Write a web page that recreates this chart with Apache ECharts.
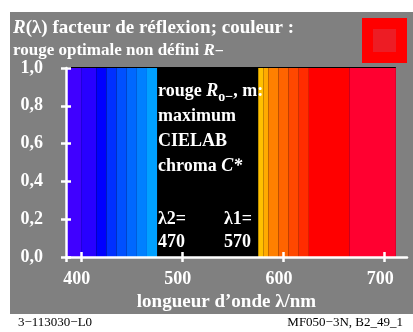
<!DOCTYPE html>
<html>
<head>
<meta charset="utf-8">
<script src="https://cdn.jsdelivr.net/npm/echarts@6/dist/echarts.min.js"></script>
<style>
  html, body { margin: 0; padding: 0; background: #ffffff; }
  #chart { width: 413px; height: 332px; }
</style>
</head>
<body>
<div id="chart"></div>
<script>
// Spectral bands (nm) where the optimal red reflects, with their display colours
const bandFrom = [385, 400, 415, 425, 435, 445, 455, 465, 575, 580, 585, 595, 605, 615, 625, 665];
const bandTo   = [400, 415, 425, 435, 445, 455, 465, 475, 580, 585, 595, 605, 615, 625, 665, 711];
const bandReflectance = [1, 1, 1, 1, 1, 1, 1, 1, 1, 1, 1, 1, 1, 1, 1, 1];
const bandColors = ['#4000ff', '#2800ff', '#0000ff', '#0030ff', '#0050ff', '#0068ff', '#0080ff', '#00a0ff',
                    '#ffc000', '#ffaa00', '#ff8000', '#ff6400', '#ff4800', '#ff2c00', '#ff0000', '#ff0030'];
// Full spectral range of the plot background (zero reflectance shows black)
const spectrumRange = [385, 711];
const xTickValues = [400, 500, 600, 700];
const lambda2 = 470;
const lambda1 = 570;

const serif = '"Liberation Serif", "Times New Roman", serif';
const chart = echarts.init(document.getElementById('chart'), null, { renderer: 'canvas' });

const bands = bandFrom.map((f, i) => [f, bandTo[i], bandReflectance[i], i]);

function rectItem(api, x0, x1, r, extraTop) {
  const p0 = api.coord([x0, 0]);
  const p1 = api.coord([x1, r]);
  return { x: p0[0], y: p1[1] - extraTop, width: p1[0] - p0[0], height: p0[1] - p1[1] + extraTop };
}

const white = '#ffffff';
const tickStyle = { color: white, width: 2.5 };
const labelFont = { color: white, fontFamily: serif, fontWeight: 'bold', fontSize: 18 };

const option = {
  animation: false,
  backgroundColor: '#ffffff',
  grid: { left: 66, top: 68, width: 341, height: 189, containLabel: false },
  xAxis: [{
    type: 'value', min: 385, max: 722, z: 5,
    axisLine: { show: true, onZero: false, lineStyle: { color: white, width: 2.5 } },
    axisTick: { show: true, length: 5, inside: false, customValues: [385].concat(xTickValues), lineStyle: tickStyle },
    axisLabel: Object.assign({ customValues: xTickValues, margin: 13, padding: [0, 9, 0, 0] }, labelFont),
    splitLine: { show: false },
    name: 'longueur d\u2019onde \u03bb/nm', nameLocation: 'middle', nameGap: 26,
    nameTextStyle: { color: white, fontFamily: serif, fontWeight: 'bold', fontSize: 19, padding: [0, 20, 0, 0] }
  }, {
    type: 'value', min: 385, max: 722, z: 5, position: 'bottom',
    axisLine: { show: false },
    axisTick: { show: true, length: 5, inside: true, customValues: xTickValues, lineStyle: tickStyle },
    axisLabel: { show: false }, splitLine: { show: false }
  }],
  yAxis: [{
    type: 'value', min: 0, max: 1, interval: 0.2, z: 5,
    axisLine: { show: true, lineStyle: { color: white, width: 2.5 } },
    axisTick: { show: true, length: 5, inside: false, lineStyle: tickStyle },
    axisLabel: Object.assign({ margin: 23, padding: [7, 0, 0, 0],
      formatter: v => v.toFixed(1).replace('.', ',') }, labelFont),
    splitLine: { show: false }
  }, {
    type: 'value', min: 0, max: 1, interval: 0.2, z: 5, position: 'left',
    axisLine: { show: false },
    axisTick: { show: true, length: 5, inside: true, lineStyle: tickStyle },
    axisLabel: { show: false }, splitLine: { show: false }
  }],
  series: [{
    type: 'custom', name: 'fond', z: 1,
    data: [[spectrumRange[0], spectrumRange[1], 1]],
    renderItem: (params, api) => ({
      type: 'rect',
      shape: rectItem(api, api.value(0), api.value(1), api.value(2), 1),
      style: { fill: '#000000' }
    })
  }, {
    type: 'custom', name: 'R(\u03bb)', z: 2,
    data: bands,
    renderItem: (params, api) => ({
      type: 'rect',
      shape: rectItem(api, api.value(0), api.value(1), api.value(2), 0),
      style: { fill: bandColors[api.value(3)] }
    })
  }],
  graphic: [
    { type: 'rect', z: -10, shape: { x: 10, y: 12, width: 403, height: 302 }, style: { fill: '#808080' } },
    { type: 'rect', shape: { x: 362, y: 18, width: 45, height: 45 }, style: { fill: '#ff0000' } },
    { type: 'rect', shape: { x: 373, y: 29, width: 23, height: 23 }, style: { fill: '#ed1c24' } },
    { type: 'text', x: 13, y: 28, style: {
        text: '{it|R}(\u03bb) facteur de r\u00e9flexion; couleur :',
        fill: white, font: 'bold 19px ' + serif, verticalAlign: 'middle',
        rich: { it: { fontStyle: 'italic', fontWeight: 'bold', fontSize: 19, fontFamily: serif, fill: white } } } },
    { type: 'text', x: 13, y: 51, style: {
        text: 'rouge optimale non d\u00e9fini {it|R}{sub|\u2212}',
        fill: white, font: 'bold 17px ' + serif, verticalAlign: 'middle',
        rich: { it: { fontStyle: 'italic', fontWeight: 'bold', fontSize: 17, fontFamily: serif, fill: white },
                sub: { fontWeight: 'bold', fontSize: 16, fontFamily: serif, fill: white, verticalAlign: 'bottom' } } } },
    { type: 'text', x: 158, y: 79, z: 10, style: {
        text: 'rouge {it|R}{sub|o\u2212}, m:\nmaximum\nCIELAB\nchroma {it|C*}',
        fill: white, font: 'bold 18px ' + serif, lineHeight: 25, verticalAlign: 'top',
        rich: { it: { fontStyle: 'italic', fontWeight: 'bold', fontSize: 18, fontFamily: serif, fill: white, lineHeight: 25 },
                sub: { fontWeight: 'bold', fontSize: 14, fontFamily: serif, fill: white, verticalAlign: 'bottom', lineHeight: 25 } } } },
    { type: 'text', x: 158, y: 208, z: 10, style: {
        text: '\u03bb2=\n' + lambda2, fill: white, font: 'bold 18px ' + serif, lineHeight: 23, verticalAlign: 'top' } },
    { type: 'text', x: 224, y: 208, z: 10, style: {
        text: '\u03bb1=\n' + lambda1, fill: white, font: 'bold 18px ' + serif, lineHeight: 23, verticalAlign: 'top' } },
    { type: 'text', x: 18, y: 323, style: {
        text: '3\u2212113030\u2212L0', fill: '#000000', font: '13px ' + serif, verticalAlign: 'middle' } },
    { type: 'text', x: 403, y: 323, style: {
        text: 'MF050\u22123N, B2_49_1', fill: '#000000', font: '13px ' + serif, verticalAlign: 'middle', align: 'right' } }
  ]
};
chart.setOption(option);
</script>
</body>
</html>
